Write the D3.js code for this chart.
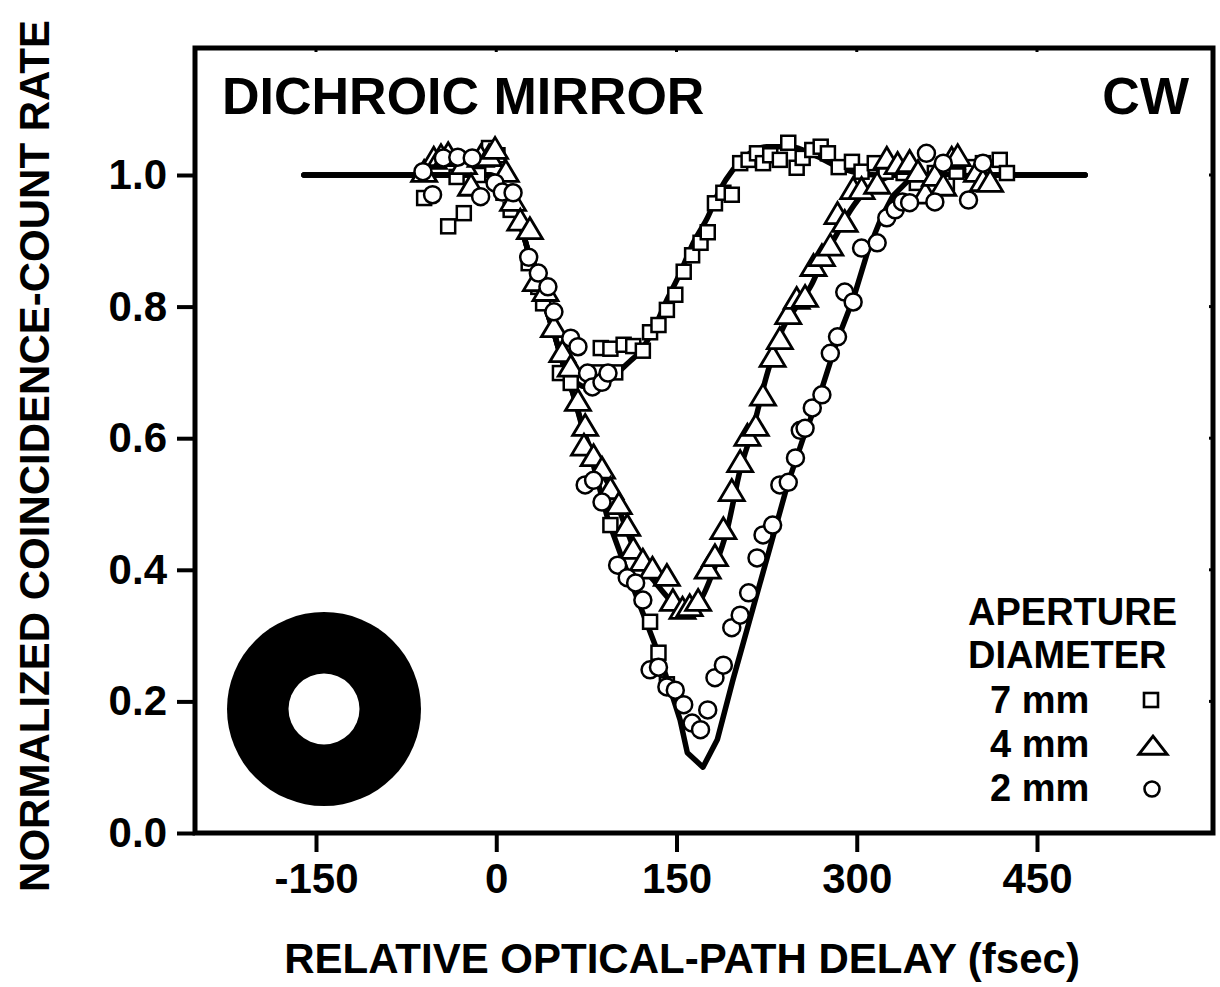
<!DOCTYPE html>
<html>
<head>
<meta charset="utf-8">
<script src="https://cdn.jsdelivr.net/npm/d3@7"></script>
<style>
  body { margin: 0; background: #fff; }
  svg text { font-family: "Liberation Sans", Arial, sans-serif; font-weight: bold; fill: #000; }
</style>
</head>
<body>
<div id="chart"></div>
<script>
// tick values
var xTicks = [-150, 0, 150, 300, 450];
var yTicks = [0, 0.2, 0.4, 0.6, 0.8, 1.0];

// measured points, [delay fsec, normalized rate]
var sq7mm = [
  [-60, 0.965], [-40, 0.922], [-27, 0.942], [-33, 0.997], [-6, 1.041], [1, 1.03], [-15, 1.0],
  [6, 0.973], [12, 0.947], [27, 0.866], [35, 0.83], [39, 0.805], [53, 0.699], [62, 0.684],
  [84, 0.70], [99, 0.70], [87, 0.737], [95, 0.736], [106, 0.742], [114, 0.74], [122, 0.733],
  [128, 0.761], [135, 0.772], [142, 0.795], [149, 0.818], [156, 0.853], [163, 0.878],
  [170, 0.897], [176, 0.913], [182, 0.957], [189, 0.973], [196, 0.97], [203, 1.018],
  [210, 1.023], [217, 1.033], [222, 1.018], [228, 1.03], [236, 1.023], [243, 1.049],
  [250, 1.011], [255, 1.026], [263, 1.038], [270, 1.043], [276, 1.033], [285, 1.012],
  [296, 1.02], [304, 1.005], [315, 1.018], [324, 1.005], [339, 1.003], [350, 0.988],
  [365, 1.003], [375, 0.988], [383, 1.005], [396, 1.012], [405, 1.018], [419, 1.023], [425, 1.003],
  [95, 0.468], [128, 0.321], [135, 0.274], [142, 0.226]
];
var tri4mm = [
  [-60, 1.003], [-52, 1.023], [-46, 1.027], [-40, 1.03], [-27, 1.015], [-21, 0.982],
  [-13, 1.026], [-6, 1.027], [-1, 1.038], [8, 1.003], [14, 0.959], [20, 0.929], [28, 0.916],
  [33, 0.837], [41, 0.822], [48, 0.767], [55, 0.729], [62, 0.707], [68, 0.655], [74, 0.617],
  [73, 0.587], [81, 0.571], [88, 0.552], [95, 0.521], [102, 0.498], [109, 0.465], [114, 0.43],
  [122, 0.412], [130, 0.40], [142, 0.389], [147, 0.351], [155, 0.339], [161, 0.343],
  [168, 0.351], [176, 0.40], [182, 0.419], [189, 0.46], [196, 0.518], [203, 0.562],
  [209, 0.602], [216, 0.617], [222, 0.663], [230, 0.722], [236, 0.749], [243, 0.787],
  [250, 0.81], [257, 0.813], [264, 0.86], [271, 0.875], [278, 0.891], [284, 0.939],
  [290, 0.927], [297, 0.977], [304, 0.977], [317, 0.985], [325, 1.023], [334, 1.015],
  [344, 1.018], [351, 1.003], [357, 0.97], [365, 0.997], [372, 0.982], [379, 1.023],
  [384, 1.027], [400, 1.003], [405, 0.989], [411, 0.988]
];
var circ2mm = [
  [-61, 1.005], [-53, 0.97], [-44, 1.026], [-32, 1.027], [-20, 1.026], [-13, 0.967],
  [-1, 0.988], [5, 0.974], [14, 0.973], [27, 0.875], [35, 0.851], [43, 0.83], [48, 0.792],
  [62, 0.752], [68, 0.739], [76, 0.699], [80, 0.678], [88, 0.685], [93, 0.699],
  [74, 0.529], [81, 0.536], [88, 0.503], [101, 0.407], [109, 0.388], [116, 0.38], [122, 0.354],
  [128, 0.248], [135, 0.252], [142, 0.222], [149, 0.217], [156, 0.195], [163, 0.167],
  [170, 0.157], [176, 0.187], [182, 0.236], [189, 0.255], [196, 0.312], [203, 0.331],
  [210, 0.365], [217, 0.418], [222, 0.453], [230, 0.468], [236, 0.529], [243, 0.533],
  [249, 0.57], [253, 0.612], [257, 0.615], [263, 0.646], [271, 0.666], [278, 0.729],
  [284, 0.754], [290, 0.822], [297, 0.807], [304, 0.889], [317, 0.897], [325, 0.935],
  [332, 0.947], [338, 0.959], [344, 0.958], [358, 1.033], [365, 0.959], [372, 1.018],
  [393, 0.962], [405, 1.018]
];

// fitted curves
var fit7mm = [
  [-160, 1], [-20, 1], [-5, 1], [3, 0.99], [10, 0.965], [20, 0.925], [30, 0.862], [40, 0.805],
  [48, 0.76], [56, 0.715], [64, 0.69], [74, 0.678], [84, 0.677], [94, 0.688], [103, 0.703],
  [112, 0.718], [120, 0.732], [131, 0.766], [142, 0.81], [153, 0.851], [164, 0.897],
  [176, 0.936], [186, 0.977], [197, 1.008], [211, 1.033], [225, 1.043], [245, 1.043],
  [265, 1.03], [285, 1.012], [305, 1.002], [320, 1], [490, 1]
];
var fit4mm = [
  [-160, 1], [-20, 1], [-5, 1], [3, 0.99], [10, 0.965], [20, 0.925], [30, 0.862], [40, 0.805],
  [48, 0.76], [56, 0.71], [64, 0.667], [72, 0.615], [80, 0.578], [88, 0.548], [97, 0.517],
  [105, 0.478], [114, 0.435], [122, 0.405], [131, 0.384], [147, 0.35], [157, 0.336],
  [170, 0.354], [181, 0.40], [192, 0.46], [203, 0.552], [214, 0.617], [225, 0.695],
  [238, 0.765], [250, 0.80], [262, 0.832], [272, 0.872], [284, 0.912], [295, 0.947],
  [306, 0.973], [320, 0.992], [334, 1], [490, 1]
];
var fit2mm = [
  [-160, 1], [-20, 1], [-5, 1], [3, 0.99], [10, 0.965], [20, 0.925], [30, 0.862], [40, 0.805],
  [48, 0.76], [56, 0.71], [64, 0.667], [72, 0.617], [80, 0.565], [93, 0.476], [106, 0.411],
  [120, 0.344], [137, 0.263], [153, 0.172], [159, 0.122], [172, 0.10], [184, 0.142],
  [197, 0.233], [214, 0.344], [228, 0.435], [242, 0.527], [255, 0.598], [270, 0.67],
  [284, 0.75], [297, 0.811], [309, 0.883], [320, 0.933], [330, 0.968], [342, 0.99],
  [355, 0.999], [370, 1], [490, 1]
];

var legendNames = ["7 mm", "4 mm", "2 mm"];

var svgWidth = 1220;
var svgHeight = 987;
var frame = { left: 195, right: 1213, top: 48, bottom: 833 };

var svg = d3.select("#chart")
  .append("svg")
  .attr("width", svgWidth)
  .attr("height", svgHeight);

var xScale = d3.scaleLinear().domain([-150, 450]).range([316, 1037]);
var yScale = d3.scaleLinear().domain([0, 1]).range([833, 175]);

// axes (plain hyphen for negatives, as in the original)
var bottomAxis = d3.axisBottom(xScale).tickValues(xTicks).tickSize(19).tickPadding(11)
  .tickFormat(d => String(d));
var leftAxis = d3.axisLeft(yScale).tickValues(yTicks).tickSize(18).tickPadding(10)
  .tickFormat(d3.format(".1f"));

var gx = svg.append("g")
  .attr("transform", `translate(0, ${frame.bottom})`)
  .call(bottomAxis);
var gy = svg.append("g")
  .attr("transform", `translate(${frame.left}, 0)`)
  .call(leftAxis);

[gx, gy].forEach(function(g) {
  g.select(".domain").remove();
  g.selectAll(".tick line").attr("stroke", "#000").attr("stroke-width", 4);
  g.selectAll(".tick text").attr("font-size", 42).attr("font-family", null);
});

// small inside ticks on top and right edges
svg.append("g").selectAll("line").data(xTicks).enter().append("line")
  .attr("x1", d => xScale(d)).attr("x2", d => xScale(d))
  .attr("y1", frame.top).attr("y2", frame.top + 4)
  .attr("stroke", "#000").attr("stroke-width", 3);
svg.append("g").selectAll("line").data(yTicks).enter().append("line")
  .attr("x1", frame.right - 4).attr("x2", frame.right)
  .attr("y1", d => yScale(d)).attr("y2", d => yScale(d))
  .attr("stroke", "#000").attr("stroke-width", 3);

// frame
svg.append("rect")
  .attr("x", frame.left).attr("y", frame.top)
  .attr("width", frame.right - frame.left)
  .attr("height", frame.bottom - frame.top)
  .attr("fill", "none")
  .attr("stroke", "#000")
  .attr("stroke-width", 5);

// fit lines
var smooth = d3.line().x(d => xScale(d[0])).y(d => yScale(d[1])).curve(d3.curveMonotoneX);
var straight = d3.line().x(d => xScale(d[0])).y(d => yScale(d[1]));

[[fit7mm, smooth], [fit4mm, smooth], [fit2mm, straight]].forEach(function(f) {
  svg.append("path")
    .attr("d", f[1](f[0]))
    .attr("fill", "none")
    .attr("stroke", "#000")
    .attr("stroke-width", 5.5)
    .attr("stroke-linecap", "round")
    .attr("stroke-linejoin", "round");
});

// markers
function triPath(w, h) {
  return `M0,${-h * 0.6}L${w / 2},${h * 0.4}L${-w / 2},${h * 0.4}Z`;
}

svg.append("g").selectAll("rect").data(sq7mm).enter().append("rect")
  .attr("x", d => xScale(d[0]) - 7)
  .attr("y", d => yScale(d[1]) - 7)
  .attr("width", 14).attr("height", 14)
  .attr("fill", "#fff").attr("stroke", "#000").attr("stroke-width", 2.5);

svg.append("g").selectAll("path").data(tri4mm).enter().append("path")
  .attr("transform", d => `translate(${xScale(d[0])},${yScale(d[1])})`)
  .attr("d", triPath(25, 21))
  .attr("fill", "#fff").attr("stroke", "#000").attr("stroke-width", 2.8)
  .attr("stroke-linejoin", "miter");

svg.append("g").selectAll("circle").data(circ2mm).enter().append("circle")
  .attr("cx", d => xScale(d[0]))
  .attr("cy", d => yScale(d[1]))
  .attr("r", 8.5)
  .attr("fill", "#fff").attr("stroke", "#000").attr("stroke-width", 2.5);

// annulus icon
svg.append("circle").attr("cx", 324).attr("cy", 709).attr("r", 97).attr("fill", "#000");
svg.append("circle").attr("cx", 324).attr("cy", 709).attr("r", 35.5).attr("fill", "#fff");

// titles
svg.append("text").attr("x", 222).attr("y", 114).attr("font-size", 52).text("DICHROIC MIRROR");
svg.append("text").attr("x", 1189).attr("y", 114).attr("font-size", 52)
  .attr("text-anchor", "end").text("CW");

// axis labels
svg.append("text")
  .attr("x", 682).attr("y", 973)
  .attr("font-size", 42)
  .attr("text-anchor", "middle")
  .text("RELATIVE OPTICAL-PATH DELAY (fsec)");
svg.append("text")
  .attr("transform", "translate(49, 456) rotate(-90)")
  .attr("font-size", 42)
  .attr("text-anchor", "middle")
  .text("NORMALIZED COINCIDENCE-COUNT RATE");

// legend
var legend = svg.append("g");
legend.append("text").attr("x", 968).attr("y", 625).attr("font-size", 38).text("APERTURE");
legend.append("text").attr("x", 968).attr("y", 668).attr("font-size", 38).text("DIAMETER");
legend.selectAll(".lgName").data(legendNames).enter().append("text")
  .attr("class", "lgName")
  .attr("x", 990)
  .attr("y", (d, i) => 713 + i * 44)
  .attr("font-size", 38)
  .text(d => d);

legend.append("rect").attr("x", 1144).attr("y", 693).attr("width", 14).attr("height", 14)
  .attr("fill", "#fff").attr("stroke", "#000").attr("stroke-width", 2.6);
legend.append("path").attr("transform", "translate(1153,747)").attr("d", triPath(28, 18))
  .attr("fill", "#fff").attr("stroke", "#000").attr("stroke-width", 3);
legend.append("circle").attr("cx", 1152).attr("cy", 789).attr("r", 7.5)
  .attr("fill", "#fff").attr("stroke", "#000").attr("stroke-width", 2.6);
</script>
</body>
</html>
